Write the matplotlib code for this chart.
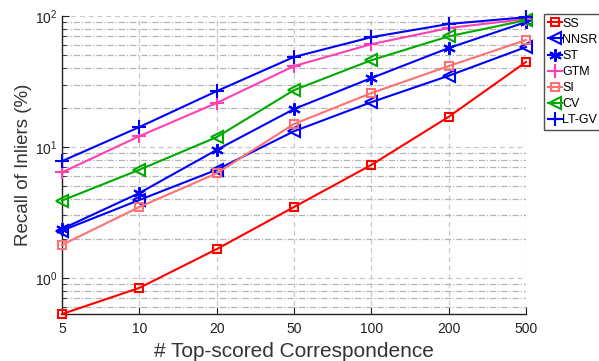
import matplotlib
matplotlib.use("Agg")
import matplotlib.pyplot as plt
from matplotlib.ticker import LogLocator, NullFormatter

plt.rcParams['font.family'] = ['Liberation Sans', 'DejaVu Sans']

x_labels = ['5', '10', '20', '50', '100', '200', '500']
names = ['SS', 'NNSR', 'ST', 'GTM', 'SI', 'CV', 'LT-GV']
SS = [0.53, 0.84, 1.66, 3.48, 7.3, 17.0, 44.6]
NNSR = [2.3, 3.94, 6.7, 13.2, 22.0, 35.0, 58.0]
ST = [2.37, 4.45, 9.5, 19.5, 33.6, 57.0, 90.0]
GTM = [6.4, 12.1, 21.7, 41.5, 61.0, 81.0, 95.0]
SI = [1.79, 3.48, 6.3, 15.0, 25.8, 41.5, 65.6]
CV = [3.9, 6.7, 11.9, 27.2, 46.0, 70.0, 93.0]
LTGV = [7.8, 14.2, 26.7, 48.7, 69.0, 87.0, 98.0]
series = [SS, NNSR, ST, GTM, SI, CV, LTGV]

colors = ['#ff0000', '#0000ff', '#0000ff', '#ff40b4', '#ff7070', '#00aa00', '#0000ff']
markers = ['s', '<', (6, 2, 0), '+', 's', '<', '+']
msizes = [6, 8, 9, 10, 6, 8, 10]

fig = plt.figure(figsize=(5.99, 3.61), dpi=100)
ax = fig.add_axes([0.1035, 0.130, 0.7746, 0.8255])

xs = list(range(len(x_labels)))
for name, ys, c, m, ms in zip(names, series, colors, markers, msizes):
    ax.plot(xs, ys, color=c, marker=m, markersize=ms, markerfacecolor='none',
            markeredgecolor=c, markeredgewidth=1.5, linewidth=1.5, label=name,
            clip_on=False, zorder=3)

ax.set_yscale('log')
ax.set_ylim(0.53, 100)
ax.set_xlim(0, 6)
ax.set_xticks(xs)
ax.set_xticklabels(x_labels)
ax.yaxis.set_major_locator(LogLocator(base=10, numticks=10))
ax.yaxis.set_minor_locator(LogLocator(base=10, subs=range(2, 10), numticks=20))
ax.yaxis.set_minor_formatter(NullFormatter())

ax.grid(True, which='major', axis='both', linestyle=(0, (4, 3)), color='#c8c8c8', linewidth=0.9)
ax.grid(True, which='minor', axis='y', linestyle=(0, (5, 1.5, 1, 1.5)), color='#b4b4b4', linewidth=0.9)
ax.set_axisbelow(True)

for s in ['top', 'right']:
    ax.spines[s].set_visible(False)
for s in ['left', 'bottom']:
    ax.spines[s].set_linewidth(1.0)
    ax.spines[s].set_color('#222222')

ax.tick_params(axis='both', which='both', direction='in', labelsize=10, colors='#222222')
ax.tick_params(axis='both', which='major', length=5)
ax.tick_params(axis='y', which='minor', length=3)
ax.tick_params(axis='x', pad=6)

ax.set_ylabel('Recall of Inliers (%)', fontsize=13.5, color='#333333', labelpad=2)
ax.set_xlabel('# Top-scored Correspondence', fontsize=15, color='#333333', labelpad=4)

leg = ax.legend(loc='upper left', bbox_to_anchor=(1.039, 1.007), fontsize=9,
                frameon=True, fancybox=False, edgecolor='#222222',
                handlelength=1.1, handletextpad=0.05, borderpad=0.3,
                labelspacing=0.33, borderaxespad=0)
leg.get_frame().set_linewidth(1.0)

fig.savefig('out.png', dpi=100)
